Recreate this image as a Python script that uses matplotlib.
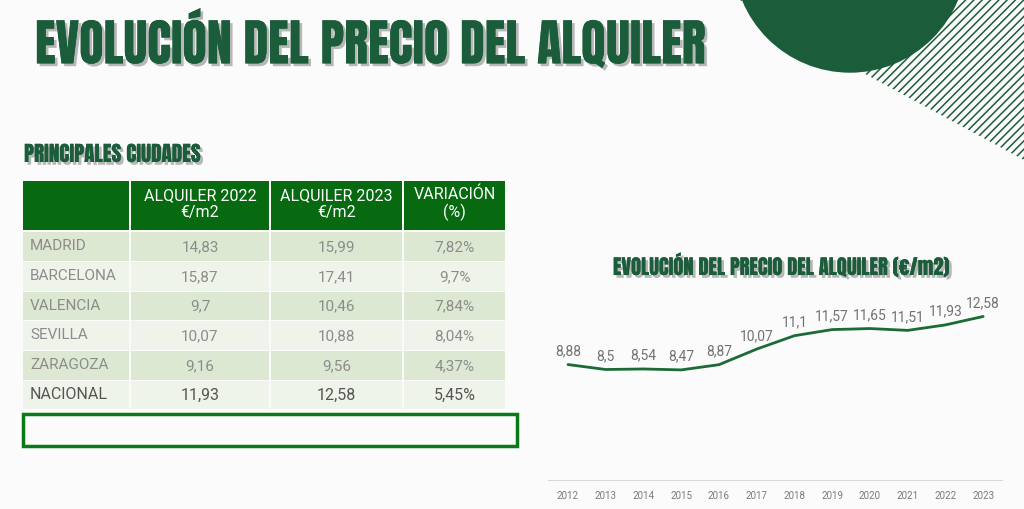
import numpy as np
import matplotlib.pyplot as plt
import matplotlib.patheffects as pe
from matplotlib.patches import Rectangle, Circle, Polygon

# datos
years = [2012, 2013, 2014, 2015, 2016, 2017, 2018, 2019, 2020, 2021, 2022, 2023]
precio = [8.88, 8.5, 8.54, 8.47, 8.87, 10.07, 11.1, 11.57, 11.65, 11.51, 11.93, 12.58]

ciudades = ["MADRID", "BARCELONA", "VALENCIA", "SEVILLA", "ZARAGOZA", "NACIONAL"]
alq_2022 = [14.83, 15.87, 9.7, 10.07, 9.16, 11.93]
alq_2023 = [15.99, 17.41, 10.46, 10.88, 9.56, 12.58]
variacion = [7.82, 9.7, 7.84, 8.04, 4.37, 5.45]
cabecera = ["", "ALQUILER 2022\n€/m2", "ALQUILER 2023\n€/m2", "VARIACIÓN\n(%)"]

W, H = 1024, 509
GREEN = "#1b5c3a"
HEAD = "#086a10"
ROW_A = "#dde8d3"
ROW_B = "#eef4ea"


def es(v):
    return ("%g" % v).replace(".", ",")


fig = plt.figure(figsize=(W / 100, H / 100), dpi=100)
fig.patch.set_facecolor("#fcfbfc")
renderer = fig.canvas.get_renderer()


def fit(t, width):
    # ajusta el tamaño de letra al ancho que ocupa en la imagen
    bb = t.get_window_extent(renderer)
    t.set_fontsize(t.get_fontsize() * width / bb.width)


# capa de fondo en pixeles
bg = fig.add_axes([0, 0, 1, 1])
bg.set_xlim(0, W)
bg.set_ylim(H, 0)
bg.axis("off")

# rayas y circulo arriba a la derecha
clip = Polygon([(740, 0), (W, 0), (W, 160), (867, 75)], closed=True,
               transform=bg.transData)
for x0 in np.arange(700, 1250, 8.3):
    ln, = bg.plot([x0 - 170, x0], [170, 0], color=GREEN, lw=1.1)
    ln.set_clip_path(clip)
bg.add_patch(Circle((850, -44), 116, color=GREEN, zorder=3))

shadow = [pe.withSimplePatchShadow(offset=(2, -2), shadow_rgbFace="#808080", alpha=0.55),
          pe.Normal()]
title_font = dict(family=["Anton", "Oswald", "Roboto Condensed", "DejaVu Sans"],
                  fontweight="bold", color=GREEN, path_effects=shadow)

t1 = bg.text(35, 40, "EVOLUCIÓN DEL PRECIO DEL ALQUILER", fontsize=34, va="center",
             ha="left", **title_font)
fit(t1, 670)
t2 = bg.text(24, 154, "PRINCIPALES CIUDADES", fontsize=12, va="center", ha="left",
             **title_font)
fit(t2, 176)
t3 = bg.text(780, 265, "EVOLUCIÓN DEL PRECIO DEL ALQUILER (€/m2)", fontsize=12,
             va="center", ha="center", **title_font)
fit(t3, 334)

# tabla
col_x = [22, 130, 270, 403, 506]
row_y = [181, 232, 262, 292, 321, 351, 381, 410]
font = "Roboto"

for c in range(4):
    x0, x1 = col_x[c] + 1, col_x[c + 1] - 1
    bg.add_patch(Rectangle((x0, row_y[0]), x1 - x0, row_y[1] - row_y[0] - 2,
                           color=HEAD, lw=0))
    if cabecera[c]:
        bg.text((x0 + x1) / 2, 204, cabecera[c], ha="center", va="center",
                color="white", fontsize=11.5, family=font, linespacing=1.1)

for r in range(len(ciudades)):
    y0, y1 = row_y[r + 1], row_y[r + 2] - 1.5
    color = ROW_A if r % 2 == 0 else ROW_B
    nacional = ciudades[r] == "NACIONAL"
    tcol = "#555555" if nacional else "#8c8c8c"
    fs = 11.5 if nacional else 11
    vals = [ciudades[r], es(alq_2022[r]), es(alq_2023[r]), es(variacion[r]) + "%"]
    for c in range(4):
        x0, x1 = col_x[c] + 1, col_x[c + 1] - 1
        bg.add_patch(Rectangle((x0, y0), x1 - x0, y1 - y0, color=color, lw=0))
        if c == 0:
            bg.text(30, (y0 + y1) / 2, vals[c], ha="left", va="center", color=tcol,
                    fontsize=fs, family=font)
        else:
            bg.text((x0 + x1) / 2, (y0 + y1) / 2 + 1, vals[c], ha="center",
                    va="center", color=tcol, fontsize=fs, family=font)

bg.add_patch(Rectangle((22.5, 414), 494, 31.5, fill=False, edgecolor="#0a7a16", lw=2.5))

# grafico de linea
ax = fig.add_axes([548 / W, (H - 480) / H, 454 / W, 182 / H])
ax.set_facecolor("none")
ax.plot(years, precio, color="#1a6b35", lw=2.0, solid_joinstyle="round",
        solid_capstyle="round")
for x, y in zip(years, precio):
    ax.annotate(es(y), (x, y), xytext=(0, 4.5), textcoords="offset points",
                ha="center", va="bottom", color="#727272", fontsize=10,
                family=font)
ax.set_xlim(2011.47, 2023.5)
ax.set_ylim(0, 14)
ax.set_xticks(years)
ax.set_xticklabels([str(y) for y in years], fontsize=7, color="#7a7a7a", family=font)
ax.tick_params(axis="x", length=0, pad=8)
ax.set_yticks([])
for s in ["top", "right", "left"]:
    ax.spines[s].set_visible(False)
ax.spines["bottom"].set_color("#d9d9d9")

fig.savefig("out.png", dpi=100, facecolor=fig.get_facecolor())
